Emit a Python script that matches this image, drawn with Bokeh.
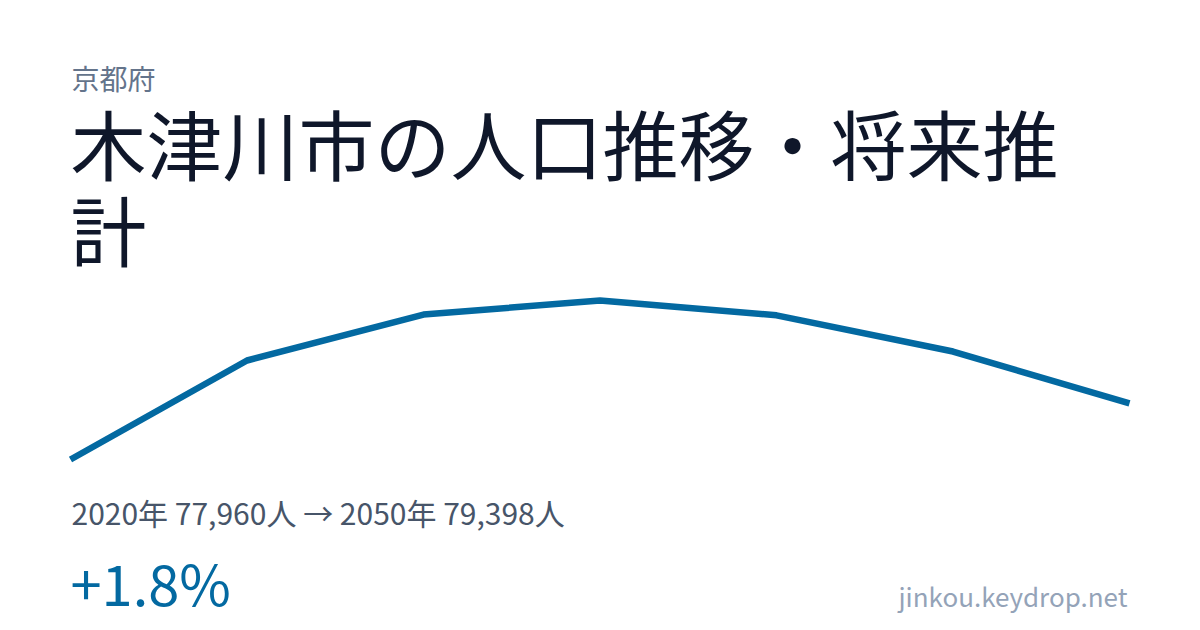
from bokeh.embed import file_html
from bokeh.models import ColumnDataSource, Label, Range1d
from bokeh.plotting import figure
from bokeh.resources import INLINE

# data
prefecture = "京都府"
title_lines = ["木津川市の人口推移・将来推", "計"]
years = [2020, 2025, 2030, 2035, 2040, 2045, 2050]
population = [77960, 80500, 81680, 82040, 81660, 80730, 79398]
summary = "2020年 77,960人 → 2050年 79,398人"
change = "+1.8%"
site = "jinkou.keydrop.net"

W, H = 1184, 614
FONT = "Noto Sans CJK JP"

# pixel anchors of the line
x0_px, x1_px = 70, 1129
ymin_px, ymax_px = 459, 300   # from top
yr_scale = (x1_px - x0_px) / (years[-1] - years[0])
ymin, ymax = min(population), max(population)
pop_scale = (ymax - ymin) / (ymin_px - ymax_px)

p = figure(width=W, height=H, output_backend="svg", toolbar_location=None,
           x_range=Range1d(0, W), y_range=Range1d(H, 0),
           min_border=0, outline_line_color=None, background_fill_color="white",
           border_fill_color="white")
p.axis.visible = False
p.grid.visible = False

p.extra_x_ranges = {"yr": Range1d(years[0] - x0_px / yr_scale,
                                  years[-1] + (W - x1_px) / yr_scale)}
p.extra_y_ranges = {"pop": Range1d(ymin - (H - ymin_px) * pop_scale,
                                   ymax + ymax_px * pop_scale)}

src = ColumnDataSource(dict(x=years, y=population))
p.line("x", "y", source=src, x_range_name="yr", y_range_name="pop",
       line_color="#0369a1", line_width=6.5)


def lab(text, x, y, size, color, align="left"):
    p.add_layout(Label(x=x, y=y, text=text, text_font=FONT,
                       text_font_size=f"{size}px", text_color=color,
                       text_align=align, text_baseline="alphabetic"))


lab(prefecture, 71, 77, 28, "#64748b")
lab(title_lines[0], 70, 141, 76, "#0f172a")
lab(title_lines[1], 70, 227, 76, "#0f172a")
lab(summary, 71, 511, 30, "#475569")
lab(change, 70, 581, 56, "#0369a1")
lab(site, 1127, 595, 26, "#94a3b8", align="right")

open("out.html", "w").write(file_html(p, INLINE))
